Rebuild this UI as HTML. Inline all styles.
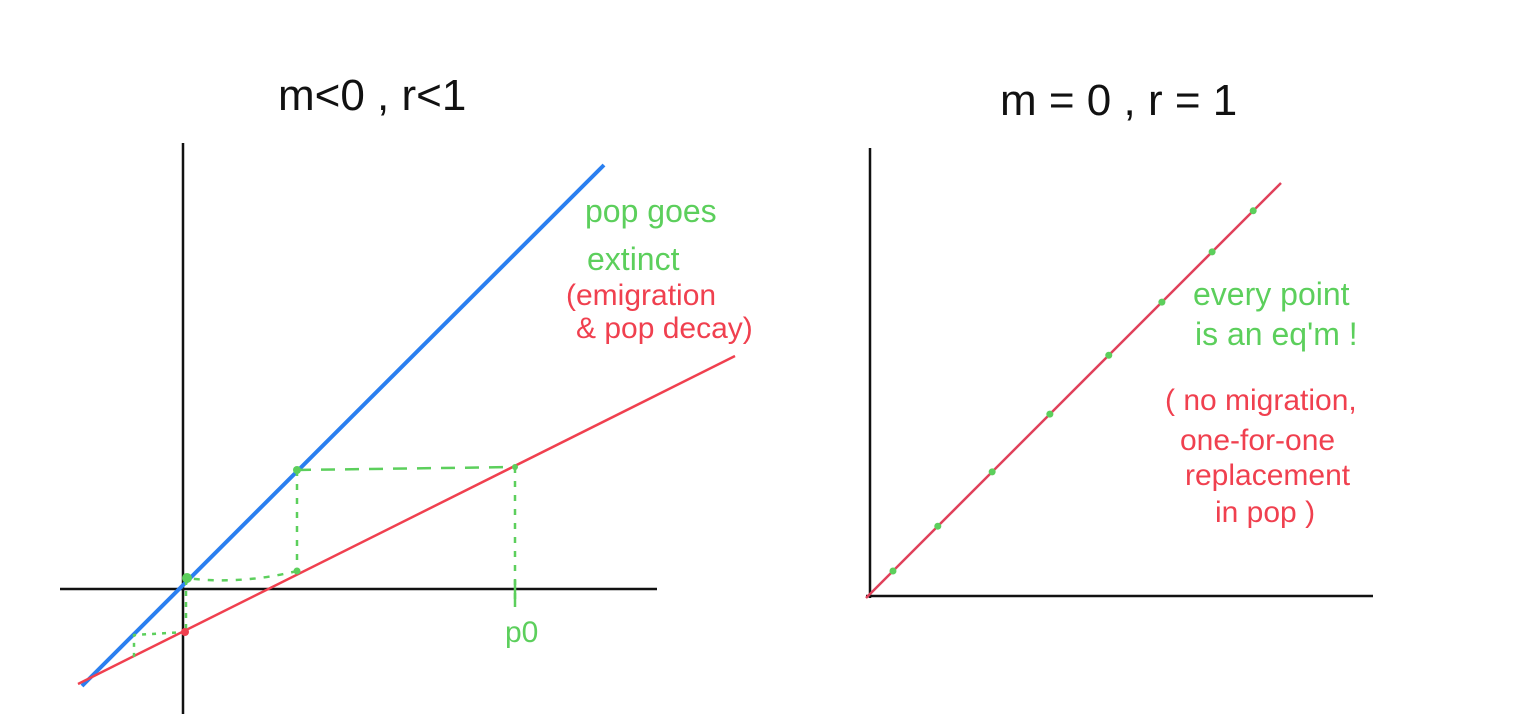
<!DOCTYPE html>
<html><head><meta charset="utf-8"><style>
html,body{margin:0;padding:0;background:#fff;width:1536px;height:714px;overflow:hidden}
svg text{font-family:"Liberation Sans",sans-serif}
</style></head><body>
<svg width="1536" height="714" viewBox="0 0 1536 714">
<g>
 <text x="278" y="110" font-size="44" fill="#111">m&lt;0 , r&lt;1</text>
 <line x1="60" y1="589" x2="657" y2="589" stroke="#111" stroke-width="2.5"/>
 <line x1="183" y1="143" x2="183" y2="714" stroke="#111" stroke-width="2.5"/>
 <line x1="82" y1="686" x2="604" y2="165" stroke="#2a7ff0" stroke-width="4"/>
 <line x1="78" y1="684" x2="735" y2="356" stroke="#f0404f" stroke-width="2.5"/>
 <g stroke="#5ccf5c" stroke-width="2.5" fill="none" stroke-dasharray="14 10">
  <path d="M297 470 L515 467"/>
  <path d="M515 467 L515 607" stroke-dasharray="6 8"/>
  <path d="M297 470 L297 571" stroke-dasharray="6 8"/>
  <path d="M297 571 Q240 585 186 578" stroke-dasharray="6 8"/>
  <path d="M186 580 L186 632" stroke-dasharray="5 6"/>
  <path d="M186 632 L134 635 L134 660" stroke-dasharray="4 6"/>
 </g>
 <line x1="515" y1="580" x2="515" y2="607" stroke="#5ccf5c" stroke-width="2.5"/>
 <circle cx="297" cy="470" r="4" fill="#5ccf5c"/>
 <circle cx="515" cy="467" r="3" fill="#5ccf5c"/>
 <circle cx="297" cy="571" r="3.5" fill="#5ccf5c"/>
 <circle cx="187" cy="578" r="5" fill="#5ccf5c"/>
 <circle cx="185" cy="632" r="4" fill="#f0404f"/>
 <text x="505" y="642" font-size="30" fill="#5ccf5c">p0</text>
 <text x="585" y="222" font-size="32" fill="#5ccf5c">pop goes</text>
 <text x="587" y="270" font-size="32" fill="#5ccf5c">extinct</text>
 <text x="566" y="305" font-size="30" fill="#f0404f">(emigration</text>
 <text x="576" y="338" font-size="30" fill="#f0404f">&amp; pop decay)</text>
</g>
<g>
 <text x="1000" y="115" font-size="44" fill="#111">m = 0 , r = 1</text>
 <line x1="870" y1="148" x2="870" y2="598" stroke="#111" stroke-width="2.5"/>
 <line x1="866" y1="596" x2="1373" y2="596" stroke="#111" stroke-width="2.5"/>
 <line x1="866" y1="598" x2="1281" y2="183" stroke="#e0405a" stroke-width="2.5"/>
 <g id="eqpts"></g>
 <text x="1193" y="305" font-size="32" fill="#5ccf5c">every point</text>
 <text x="1195" y="345" font-size="32" fill="#5ccf5c">is an eq'm !</text>
 <text x="1165" y="410" font-size="30" fill="#f0404f">( no migration,</text>
 <text x="1180" y="450" font-size="30" fill="#f0404f">one-for-one</text>
 <text x="1185" y="485" font-size="30" fill="#f0404f">replacement</text>
 <text x="1215" y="522" font-size="30" fill="#f0404f">in pop )</text>
</g>
</svg>
<script>
const eqX = [0.065, 0.173, 0.304, 0.443, 0.585, 0.713, 0.834, 0.933];
function sx(v){return 866 + v*415;}
function sy(v){return 598 - v*415;}
const g = document.getElementById('eqpts');
eqX.forEach(v=>{
  const c = document.createElementNS('http://www.w3.org/2000/svg','circle');
  c.setAttribute('cx', sx(v)); c.setAttribute('cy', sy(v)); c.setAttribute('r', 3.5);
  c.setAttribute('fill', '#5ccf5c');
  
  
  g.appendChild(c);
});
</script>
</body></html>
